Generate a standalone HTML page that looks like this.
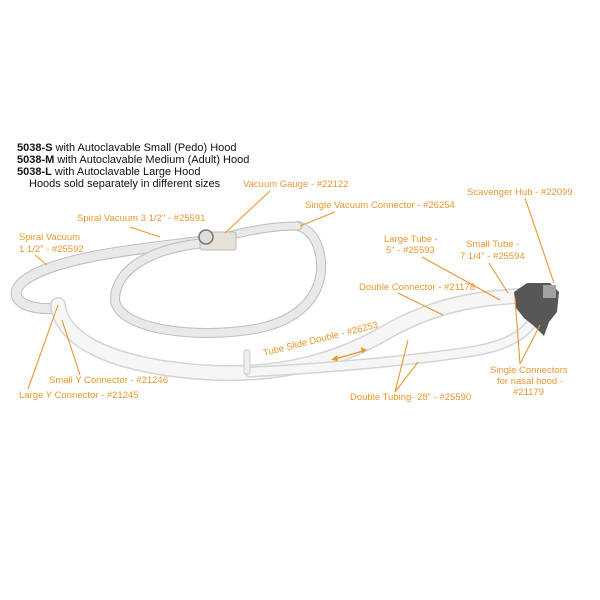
<!DOCTYPE html>
<html><head><meta charset="utf-8"><style>
body{margin:0;background:#fff;}
svg{display:block;}
.o{fill:#e8962e;font-family:"Liberation Sans",sans-serif;font-size:9.5px;}
.b{fill:#111;font-family:"Liberation Sans",sans-serif;font-size:11px;}
.l{stroke:#e8962e;stroke-width:1.1;fill:none;}
</style></head><body>
<svg width="600" height="600" viewBox="0 0 600 600">
<g fill="none" stroke-linecap="round">
<!-- spiral tubes -->
<path d="M212,240 C150,248 60,255 25,280 C5,295 20,312 60,308" stroke="#bdbdbd" stroke-width="11"/>
<path d="M212,240 C150,248 60,255 25,280 C5,295 20,312 60,308" stroke="#e9e9e9" stroke-width="9" stroke-dasharray="1.5 1.5"/>
<path d="M205,243 C150,248 115,270 115,300 C118,330 200,340 260,328 C320,315 330,270 315,240 C310,232 305,228 298,226" stroke="#bdbdbd" stroke-width="10"/>
<path d="M205,243 C150,248 115,270 115,300 C118,330 200,340 260,328 C320,315 330,270 315,240 C310,232 305,228 298,226" stroke="#e9e9e9" stroke-width="8" stroke-dasharray="1.5 1.5"/>
<path d="M228,236 C260,228 280,226 298,226" stroke="#bdbdbd" stroke-width="9"/>
<path d="M228,236 C260,228 280,226 298,226" stroke="#e9e9e9" stroke-width="7" stroke-dasharray="1.5 1.5"/>
<!-- main tubes -->
<path d="M58,305 C62,340 110,365 200,372 C280,378 340,360 390,330 C430,308 470,298 520,296" stroke="#d4d4d4" stroke-width="16"/>
<path d="M58,305 C62,340 110,365 200,372 C280,378 340,360 390,330 C430,308 470,298 520,296" stroke="#f6f6f6" stroke-width="13"/>
<path d="M250,372 C330,368 420,360 480,350 C520,342 535,325 540,305" stroke="#d4d4d4" stroke-width="11"/>
<path d="M250,372 C330,368 420,360 480,350 C520,342 535,325 540,305" stroke="#f6f6f6" stroke-width="8"/>
</g>
<rect x="244" y="350" width="6" height="24" rx="2" fill="#eee" stroke="#ccc"/>
<!-- gauge -->
<rect x="200" y="232" width="36" height="18" rx="2" fill="#e6e2d8" stroke="#bbb"/>
<circle cx="206" cy="237" r="7" fill="#ddd" stroke="#777" stroke-width="1.5"/>
<!-- hub -->
<path d="M514,292 L527,283 L550,283 L559,292 L557,312 L549,322 L544,336 L534,326 L524,318 L516,308 Z" fill="#575757"/>
<rect x="543" y="285" width="13" height="13" fill="#a0a0a0"/>
<!-- text -->
<text class="b" x="17" y="151"><tspan font-weight="bold">5038-S</tspan>  with Autoclavable Small (Pedo) Hood</text>
<text class="b" x="17" y="163"><tspan font-weight="bold">5038-M</tspan> with Autoclavable Medium (Adult) Hood</text>
<text class="b" x="17" y="175"><tspan font-weight="bold">5038-L</tspan>  with Autoclavable Large Hood</text>
<text class="b" x="29" y="187">Hoods sold separately in different sizes</text>
<text class="o" x="243" y="187">Vacuum Gauge - #22122</text>
<text class="o" x="467" y="195">Scavenger Hub - #22099</text>
<text class="o" x="305" y="208">Single Vacuum Connector - #26254</text>
<text class="o" x="77" y="221">Spiral Vacuum 3 1/2" - #25591</text>
<text class="o" x="19" y="240">Spiral Vacuum</text>
<text class="o" x="19" y="252">1 1/2" - #25592</text>
<text class="o" x="384" y="242">Large Tube -</text>
<text class="o" x="386" y="253">5" - #25593</text>
<text class="o" x="466" y="247">Small Tube -</text>
<text class="o" x="460" y="259">7 1/4" - #25594</text>
<text class="o" x="359" y="290">Double Connector - #21178</text>
<text class="o" x="264" y="356" transform="rotate(-14 264 356)">Tube Slide Double - #26253</text>
<text class="o" x="49" y="383">Small Y Connector - #21246</text>
<text class="o" x="19" y="398">Large Y Connector - #21245</text>
<text class="o" x="350" y="400">Double Tubing- 28" - #25590</text>
<text class="o" x="490" y="373">Single Connectors</text>
<text class="o" x="497" y="384">for nasal hood -</text>
<text class="o" x="513" y="395">#21179</text>
<!-- leaders -->
<path class="l" d="M270,191 L225,233"/>
<path class="l" d="M525,198 L554,283"/>
<path class="l" d="M335,212 L300,226"/>
<path class="l" d="M130,227 L160,237"/>
<path class="l" d="M35,255 L47,265"/>
<path class="l" d="M422,257 L500,300"/>
<path class="l" d="M489,263 L508,293"/>
<path class="l" d="M398,293 L443,315"/>
<path class="l" d="M80,375 L62,320"/>
<path class="l" d="M28,389 L58,305"/>
<path class="l" d="M395,392 L408,340"/>
<path class="l" d="M395,392 L418,362"/>
<path class="l" d="M520,364 L515,298"/>
<path class="l" d="M520,364 L540,325"/>
<path d="M335,359 L363,351" stroke="#e8962e" stroke-width="1.3"/>
<path d="M331,360 l6,-5 l1,6z M367,350 l-6,-3 l1,6z" fill="#e8962e"/>
</svg>
</body></html>
